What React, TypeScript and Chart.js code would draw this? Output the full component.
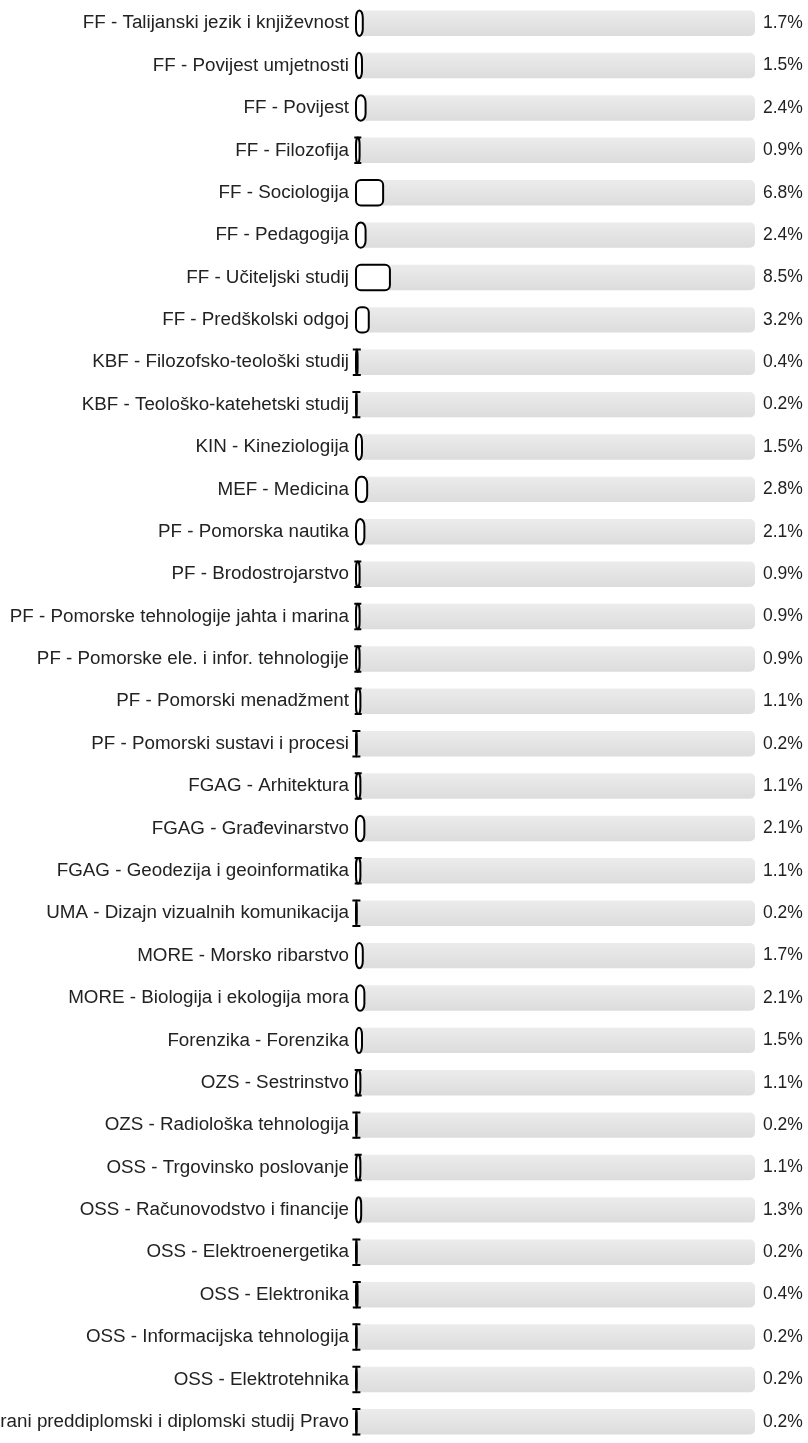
import React, { useEffect, useRef } from "react";
import { Chart, registerables } from "chart.js";

Chart.register(...registerables);

const categories: string[] = [
  "FF - Talijanski jezik i književnost",
  "FF - Povijest umjetnosti",
  "FF - Povijest",
  "FF - Filozofija",
  "FF - Sociologija",
  "FF - Pedagogija",
  "FF - Učiteljski studij",
  "FF - Predškolski odgoj",
  "KBF - Filozofsko-teološki studij",
  "KBF - Teološko-katehetski studij",
  "KIN - Kineziologija",
  "MEF - Medicina",
  "PF - Pomorska nautika",
  "PF - Brodostrojarstvo",
  "PF - Pomorske tehnologije jahta i marina",
  "PF - Pomorske ele. i infor. tehnologije",
  "PF - Pomorski menadžment",
  "PF - Pomorski sustavi i procesi",
  "FGAG - Arhitektura",
  "FGAG - Građevinarstvo",
  "FGAG - Geodezija i geoinformatika",
  "UMA - Dizajn vizualnih komunikacija",
  "MORE - Morsko ribarstvo",
  "MORE - Biologija i ekologija mora",
  "Forenzika - Forenzika",
  "OZS - Sestrinstvo",
  "OZS - Radiološka tehnologija",
  "OSS - Trgovinsko poslovanje",
  "OSS - Računovodstvo i financije",
  "OSS - Elektroenergetika",
  "OSS - Elektronika",
  "OSS - Informacijska tehnologija",
  "OSS - Elektrotehnika",
  "PRAVRI - Integrirani preddiplomski i diplomski studij Pravo",
];

const percentValues: number[] = [
  1.7, 1.5, 2.4, 0.9, 6.8, 2.4, 8.5, 3.2, 0.4, 0.2, 1.5, 2.8, 2.1, 0.9, 0.9, 0.9, 1.1,
  0.2, 1.1, 2.1, 1.1, 0.2, 1.7, 2.1, 1.5, 1.1, 0.2, 1.1, 1.3, 0.2, 0.4, 0.2, 0.2, 0.2,
];

const valueLabels: string[] = percentValues.map((v) => v.toFixed(1) + "%");

const trackMax: number[] = categories.map(() => 100);

const FONT = "'Liberation Sans', Arial, Helvetica, sans-serif";

const outlinePlugin = {
  id: "outlineBars",
  afterDatasetsDraw(chart: any) {
    const meta = chart.getDatasetMeta(1);
    const ctx = chart.ctx;
    ctx.save();
    ctx.strokeStyle = "#000";
    ctx.lineWidth = 2;
    meta.data.forEach((el: any) => {
      const p = el.getProps(["x", "y", "base", "height"], true);
      const left = Math.min(p.base, p.x);
      const right = Math.max(p.base, p.x);
      const top = p.y - p.height / 2;
      const bottom = p.y + p.height / 2;
      const w = right - left;
      const rx = Math.max(0.01, Math.min(5, w / 2));
      const ry = w < 12 ? 7 : 5;
      ctx.beginPath();
      ctx.moveTo(left + rx, top);
      ctx.lineTo(right - rx, top);
      ctx.ellipse(right - rx, top + ry, rx, ry, 0, -Math.PI / 2, 0);
      ctx.lineTo(right, bottom - ry);
      ctx.ellipse(right - rx, bottom - ry, rx, ry, 0, 0, Math.PI / 2);
      ctx.lineTo(left + rx, bottom);
      ctx.ellipse(left + rx, bottom - ry, rx, ry, 0, Math.PI / 2, Math.PI);
      ctx.lineTo(left, top + ry);
      ctx.ellipse(left + rx, top + ry, rx, ry, 0, Math.PI, Math.PI * 1.5);
      ctx.closePath();
      ctx.stroke();
      if (w < 5) {
        const cx = (left + right) / 2;
        const half = w < 2 ? 4 : 3.5;
        ctx.beginPath();
        ctx.moveTo(cx - half, top);
        ctx.lineTo(cx + half, top);
        ctx.moveTo(cx - half, bottom);
        ctx.lineTo(cx + half, bottom);
        ctx.stroke();
      }
    });
    ctx.restore();
  },
};

const noPad = (s: any, width: number) => {
  s.width = width;
  s.paddingTop = 0;
  s.paddingBottom = 0;
};

export default function App() {
  const ref = useRef<HTMLCanvasElement | null>(null);
  useEffect(() => {
    if (!ref.current) return;
    const chart = new Chart(ref.current, {
      type: "bar",
      data: {
        labels: categories,
        datasets: [
          {
            data: trackMax,
            order: 2,
            grouped: false,
            borderRadius: 5,
            borderSkipped: false,
            borderWidth: 0,
            categoryPercentage: 1,
            barPercentage: 0.6,
            backgroundColor: (c: any) => {
              const chartRef = c.chart;
              const ys = chartRef.scales?.y;
              if (!ys || c.dataIndex === undefined) return "#e4e4e4";
              const cy = ys.getPixelForValue(c.dataIndex);
              if (!Number.isFinite(cy)) return "#e4e4e4";
              const g = chartRef.ctx.createLinearGradient(0, cy - 13, 0, cy + 13);
              g.addColorStop(0, "#ececec");
              g.addColorStop(1, "#dcdcdc");
              return g;
            },
          } as any,
          {
            data: percentValues,
            order: 1,
            grouped: false,
            borderRadius: 5,
            borderSkipped: false,
            borderWidth: 0,
            categoryPercentage: 1,
            barPercentage: 0.6,
            backgroundColor: "#ffffff",
          } as any,
        ],
      },
      options: {
        indexAxis: "y",
        animation: false,
        responsive: true,
        maintainAspectRatio: false,
        layout: { padding: { top: 2, bottom: 0, left: 0, right: 0 } },
        plugins: {
          legend: { display: false },
          tooltip: { enabled: false },
        },
        scales: {
          x: {
            type: "linear",
            min: 0,
            max: 100,
            display: false,
          },
          y: {
            type: "category",
            position: "left",
            offset: true,
            grid: { display: false, drawTicks: false },
            border: { display: false },
            ticks: {
              autoSkip: false,
              padding: 7,
              color: "#222",
              font: { family: FONT, size: 18.8 },
            },
            afterFit: (s: any) => noPad(s, 356),
          },
          y2: {
            type: "category",
            position: "right",
            labels: valueLabels,
            offset: true,
            grid: { display: false, drawTicks: false },
            border: { display: false },
            ticks: {
              autoSkip: false,
              padding: 8,
              color: "#222",
              font: { family: FONT, size: 17.5 },
            },
            afterFit: (s: any) => noPad(s, 53),
          },
        },
      } as any,
      plugins: [outlinePlugin],
    });
    return () => chart.destroy();
  }, []);
  return (
    <div style={{ position: "absolute", left: 0, top: 0, width: 808, height: 1443 }}>
      <canvas ref={ref} />
    </div>
  );
}
